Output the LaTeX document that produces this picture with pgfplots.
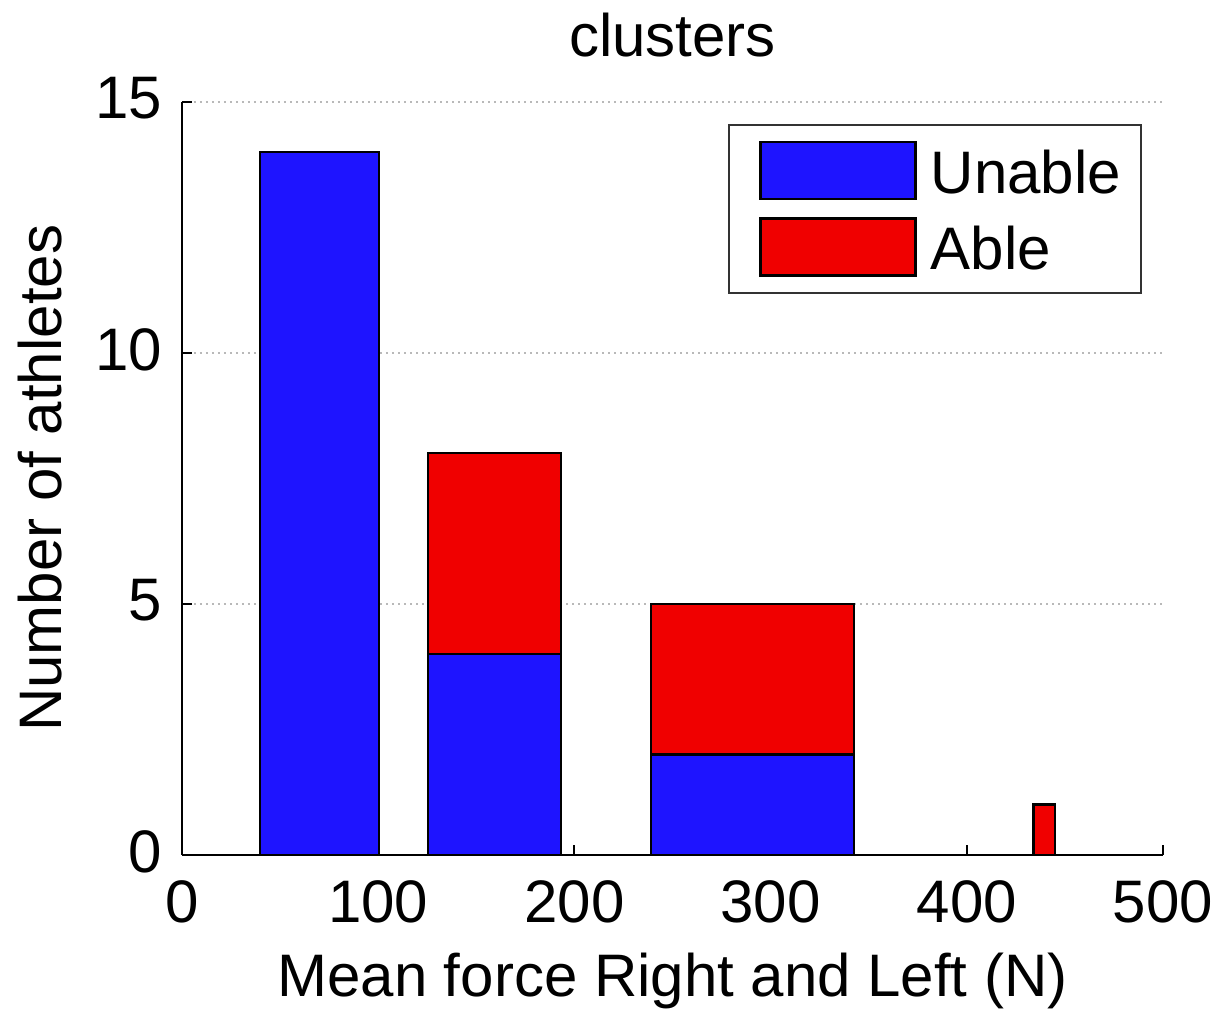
\documentclass[border=0pt]{standalone}
\usepackage{pgfplots}
\pgfplotsset{compat=1.18}
\usepackage{fontspec}
\setmainfont{Liberation Sans}

\definecolor{unableblue}{RGB}{30,20,255}
\definecolor{ablered}{RGB}{240,0,0}

\newcommand{\chartfont}{\fontsize{15}{18}\selectfont}

\begin{document}
\begin{tikzpicture}
\begin{axis}[
  scale only axis,
  width=245.25pt, height=188.25pt,
  xmin=0, xmax=500, ymin=0, ymax=15,
  xtick={0,100,200,300,400,500},
  ytick={0,5,10,15},
  axis x line*=bottom, axis y line*=left,
  axis line style={line width=0.5pt, black},
  tick align=inside,
  major tick length=2.5pt,
  every tick/.style={black, line width=0.5pt},
  ymajorgrids,
  grid style={gray!55, line width=0.5pt, dash pattern=on 0.5pt off 1pt},
  /pgf/number format/assume math mode=true,
  tick label style={font=\chartfont},
  yticklabel style={inner sep=0pt, anchor=east, xshift=-4.75pt, yshift=0.8pt},
  xticklabel style={inner sep=0pt, anchor=north, yshift=-6.25pt},
  title={clusters},
  title style={font=\chartfont, at={(axis description cs:0.5,1)}, anchor=base, yshift=5.25pt},
  xlabel={Mean force Right and Left (N)},
  xlabel style={font=\chartfont, at={(axis description cs:0.5,0)}, anchor=base, yshift=-35.5pt},
  ylabel={Number of athletes},
  ylabel style={font=\chartfont, at={(axis description cs:-0.12334,0.5)}, anchor=base, rotate=0},
  legend style={
    font=\chartfont,
    at={(rel axis cs:1,1)}, anchor=north east,
    xshift=-5.25pt, yshift=-5.5pt,
    draw=black!80, line width=0.5pt, fill=white,
    inner xsep=5pt, inner ysep=4pt,
    row sep=4.25pt, column sep=3.5pt,
    nodes={inner sep=0pt},
    cells={anchor=west},
  },
  legend image code/.code={
    \path (0pt,0pt);
    \draw[#1] (2.5pt,-6.15pt) rectangle (41.25pt,8.1pt);
  },
  every axis plot/.append style={draw=black, line width=0.6pt},
]

% bin 1: 40--100.4 N
\addplot[fill=unableblue] coordinates {(39.9,0) (39.9,14) (100.4,14) (100.4,0)} --cycle;
\addlegendentry{Unable}
% bin 4: 434--445 N
\addplot[fill=ablered] coordinates {(434,0) (434,1) (445,1) (445,0)} --cycle;
\addlegendentry{Able}

% bin 2: 125.4--193.2 N
\addplot[fill=unableblue, forget plot] coordinates {(125.4,0) (125.4,4) (193.2,4) (193.2,0)} --cycle;
\addplot[fill=ablered, forget plot] coordinates {(125.4,4) (125.4,8) (193.2,8) (193.2,4)} --cycle;
% bin 3: 239--342.5 N
\addplot[fill=unableblue, forget plot] coordinates {(239,0) (239,2) (342.5,2) (342.5,0)} --cycle;
\addplot[fill=ablered, forget plot] coordinates {(239,2) (239,5) (342.5,5) (342.5,2)} --cycle;
\end{axis}
\path ([shift={(-45.5pt,-39pt)}]current axis.south west) rectangle ([shift={(14.25pt,25pt)}]current axis.north east);
\end{tikzpicture}
\end{document}
